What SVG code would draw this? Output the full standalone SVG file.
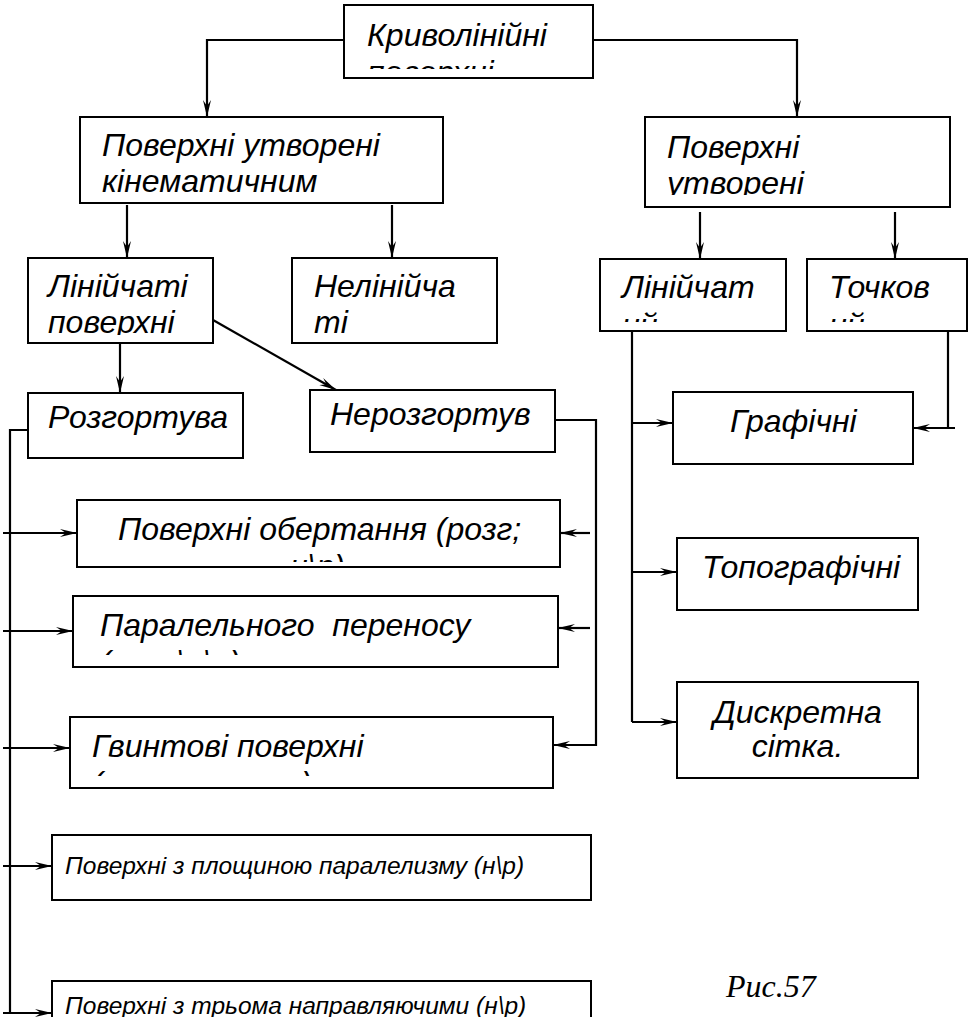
<svg xmlns="http://www.w3.org/2000/svg" width="970" height="1017" viewBox="0 0 970 1017">
<style>
.box{fill:#fff;stroke:#000;stroke-width:2}
.t{font-family:"Liberation Sans",Arial,sans-serif;font-style:italic;font-size:32px;fill:#000;white-space:pre}
.s{font-size:24.5px}
.c{fill:none;stroke:#000;stroke-width:2.2}
.cap{font-family:"Liberation Serif","Times New Roman",serif;font-style:italic;font-size:32px;fill:#000}
</style>
<defs>
<marker id="a" markerWidth="18" markerHeight="10" refX="17" refY="5" orient="auto" markerUnits="userSpaceOnUse">
<path d="M0,1 L17,5 L0,9 L6,5 z" fill="#000"/>
</marker>
<clipPath id="k1"><rect x="345" y="6" width="247" height="63"/></clipPath>
<clipPath id="k2"><rect x="81" y="118" width="361" height="75"/></clipPath>
<clipPath id="k3"><rect x="646" y="118" width="303" height="77"/></clipPath>
<clipPath id="k4"><rect x="29" y="259" width="183" height="76"/></clipPath>
<clipPath id="k6"><rect x="601" y="260" width="184" height="62"/></clipPath>
<clipPath id="k7"><rect x="808" y="260" width="158" height="62"/></clipPath>
<clipPath id="k11"><rect x="78" y="501" width="481" height="61"/></clipPath>
<clipPath id="k12"><rect x="74" y="597" width="483" height="58"/></clipPath>
<clipPath id="k13"><rect x="71" y="718" width="481" height="58"/></clipPath>
</defs>
<g id="connectors">
<path class="c" d="M344,40 H207 V117" marker-end="url(#a)"/>
<path class="c" d="M593,40 H797 V117" marker-end="url(#a)"/>
<path class="c" d="M127,205 V258" marker-end="url(#a)"/>
<path class="c" d="M392,205 V258" marker-end="url(#a)"/>
<path class="c" d="M700,212 V259" marker-end="url(#a)"/>
<path class="c" d="M895,212 V259" marker-end="url(#a)"/>
<path class="c" d="M120,343 V393" marker-end="url(#a)"/>
<path class="c" d="M213,320 L336,390" marker-end="url(#a)"/>
<path class="c" d="M28,430 H10 V1013"/>
<path class="c" d="M3,533 H77" marker-end="url(#a)"/>
<path class="c" d="M3,631 H73" marker-end="url(#a)"/>
<path class="c" d="M3,748 H70" marker-end="url(#a)"/>
<path class="c" d="M3,866 H52" marker-end="url(#a)"/>
<path class="c" d="M3,1013 H52" marker-end="url(#a)"/>
<path class="c" d="M555,420 H596 V745 H553" marker-end="url(#a)"/>
<path class="c" d="M590,533 H560" marker-end="url(#a)"/>
<path class="c" d="M590,628 H558" marker-end="url(#a)"/>
<path class="c" d="M632,332 V722"/>
<path class="c" d="M632,423 H673" marker-end="url(#a)"/>
<path class="c" d="M632,572 H677" marker-end="url(#a)"/>
<path class="c" d="M632,722 H677" marker-end="url(#a)"/>
<path class="c" d="M948,332 V428"/>
<path class="c" d="M955,428 H913" marker-end="url(#a)"/>
</g>
<g id="n1"><rect class="box" x="344" y="5" width="249" height="73"/>
<g clip-path="url(#k1)"><text class="t" x="367" y="46">Криволінійні</text><text class="t" x="367" y="83">поверхні</text></g></g>
<g id="n2"><rect class="box" x="80" y="117" width="363" height="86"/>
<g clip-path="url(#k2)"><text class="t" x="102" y="156">Поверхні утворені</text><text class="t" x="102" y="192">кінематичним</text></g></g>
<g id="n3"><rect class="box" x="645" y="117" width="305" height="90"/>
<g clip-path="url(#k3)"><text class="t" x="667" y="158">Поверхні</text><text class="t" x="667" y="194">утворені</text></g></g>
<g id="n4"><rect class="box" x="28" y="258" width="185" height="85"/>
<g clip-path="url(#k4)"><text class="t" x="48" y="297">Лінійчаті</text><text class="t" x="48" y="333">поверхні</text></g></g>
<g id="n5"><rect class="box" x="292" y="258" width="205" height="85"/>
<text class="t" x="314" y="297">Нелінійча</text><text class="t" x="314" y="333">ті</text></g>
<g id="n6"><rect class="box" x="600" y="259" width="186" height="72"/>
<g clip-path="url(#k6)"><text class="t" x="622" y="298">Лінійчат</text><text class="t" x="622" y="336">ий</text></g></g>
<g id="n7"><rect class="box" x="807" y="259" width="160" height="72"/>
<g clip-path="url(#k7)"><text class="t" x="829" y="298">Точков</text><text class="t" x="829" y="336">ий</text></g></g>
<g id="n8"><rect class="box" x="28" y="393" width="215" height="65"/>
<text class="t" x="48" y="428">Розгортува</text></g>
<g id="n9"><rect class="box" x="310" y="390" width="245" height="62"/>
<text class="t" x="330" y="425">Нерозгортув</text></g>
<g id="n10"><rect class="box" x="673" y="392" width="240" height="72"/>
<text class="t" x="730" y="432">Графічні</text></g>
<g id="n11"><rect class="box" x="77" y="500" width="483" height="67"/>
<g clip-path="url(#k11)"><text class="t" x="118" y="540">Поверхні обертання (розг;</text><text class="t" x="290" y="577">н\р)</text></g></g>
<g id="n12"><rect class="box" x="73" y="596" width="485" height="71"/>
<g clip-path="url(#k12)"><text class="t" x="100" y="636" xml:space="preserve">Паралельного  переносу</text><text class="t" x="100" y="673">(розг\н\р)</text></g></g>
<g id="n13"><rect class="box" x="70" y="717" width="483" height="71"/>
<g clip-path="url(#k13)"><text class="t" x="92" y="757">Гвинтові поверхні</text><text class="t" x="92" y="794">(нерозгортна)</text></g></g>
<g id="n14"><rect class="box" x="677" y="538" width="241" height="72"/>
<text class="t" x="702" y="578">Топографічні</text></g>
<g id="n15"><rect class="box" x="677" y="682" width="241" height="96"/>
<text class="t" x="797.5" y="723" text-anchor="middle">Дискретна</text><text class="t" x="797.5" y="757" text-anchor="middle">сітка.</text></g>
<g id="n16"><rect class="box" x="52" y="835" width="539" height="65"/>
<text class="t s" x="65" y="874">Поверхні з площиною паралелизму (н\р)</text></g>
<g id="n17"><rect class="box" x="52" y="981" width="539" height="40"/>
<text class="t s" x="65" y="1014">Поверхні з трьома направляючими (н\р)</text></g>
<text class="cap" x="726" y="997">Рис.57</text>
</svg>
